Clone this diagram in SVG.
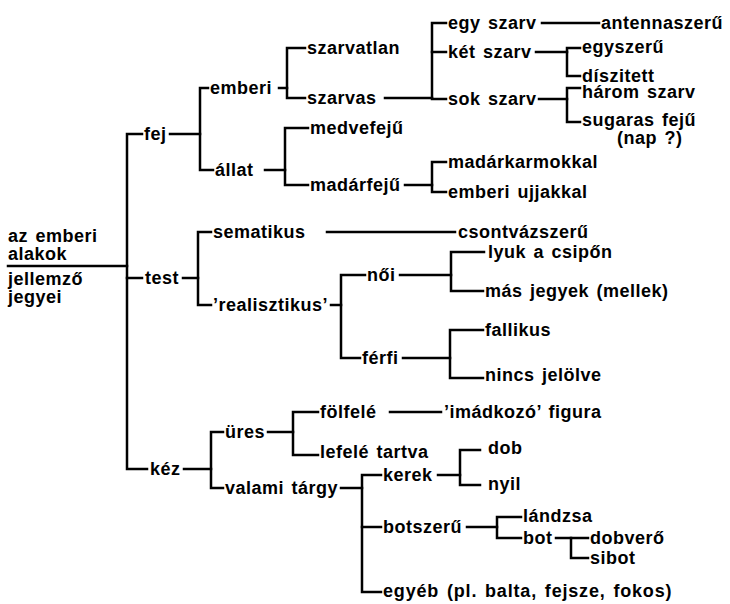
<svg xmlns="http://www.w3.org/2000/svg" width="730" height="604" viewBox="0 0 730 604">
<style>
text{font-family:"Liberation Sans",Arial,sans-serif;font-size:18px;font-weight:bold;fill:#000;letter-spacing:0.5px;word-spacing:2px}
.c line,.c polyline{stroke:#000;stroke-width:2.5;fill:none;stroke-linecap:square}
</style>
<rect width="730" height="604" fill="#fff"/>
<g class="c" id="connectors">
<line x1="8" y1="266" x2="127" y2="266"/>
<polyline points="142,134 127,134 127,469 147,469"/>
<line x1="127" y1="278" x2="142" y2="278"/>
<line x1="170" y1="134" x2="200" y2="134"/>
<polyline points="208,88 200,88 200,170 213,170"/>
<line x1="279" y1="88" x2="287" y2="88"/>
<polyline points="305,48 287,48 287,98 305,98"/>
<line x1="385" y1="98" x2="432" y2="98"/>
<polyline points="446,23 432,23 432,99 446,99"/>
<line x1="432" y1="52" x2="446" y2="52"/>
<line x1="542" y1="23" x2="599" y2="23"/>
<line x1="536" y1="52" x2="567" y2="52"/>
<polyline points="580,48 567,48 567,76 580,76"/>
<line x1="539" y1="99" x2="567" y2="99"/>
<polyline points="580,88 567,88 567,122 580,122"/>
<line x1="265" y1="170" x2="285" y2="170"/>
<polyline points="308,128 285,128 285,185 308,185"/>
<line x1="405" y1="185" x2="432" y2="185"/>
<polyline points="446,162 432,162 432,192 446,192"/>
<line x1="183" y1="278" x2="198" y2="278"/>
<polyline points="211,232 198,232 198,305 211,305"/>
<line x1="327" y1="232" x2="455" y2="232"/>
<line x1="331" y1="305" x2="341" y2="305"/>
<polyline points="365,275 341,275 341,358 360,358"/>
<line x1="400" y1="275" x2="451" y2="275"/>
<polyline points="484,252 451,252 451,291 483,291"/>
<line x1="403" y1="358" x2="450" y2="358"/>
<polyline points="483,330 450,330 450,378 483,378"/>
<line x1="184" y1="469" x2="211" y2="469"/>
<polyline points="223,432 211,432 211,488 223,488"/>
<line x1="268" y1="432" x2="293" y2="432"/>
<polyline points="318,412 293,412 293,455 318,455"/>
<line x1="390" y1="412" x2="441" y2="412"/>
<line x1="341" y1="488" x2="362" y2="488"/>
<polyline points="381,475 362,475 362,592 381,592"/>
<line x1="362" y1="527" x2="381" y2="527"/>
<line x1="438" y1="475" x2="460" y2="475"/>
<polyline points="480,450 460,450 460,485 480,485"/>
<line x1="467" y1="527" x2="497" y2="527"/>
<polyline points="521,517 497,517 497,538 521,538"/>
<line x1="556" y1="538" x2="571" y2="538"/>
<polyline points="588,538 571,538 571,558 588,558"/>
</g>
<g id="root">
<text x="8" y="242">az emberi</text>
<text x="8" y="260">alakok</text>
<text x="8" y="285">jellemző</text>
<text x="8" y="303">jegyei</text>
</g>
<g id="fej"><text x="144" y="140">fej</text></g>
<g id="emberi"><text x="210" y="94">emberi</text></g>
<g id="szarvatlan"><text x="307" y="54">szarvatlan</text></g>
<g id="szarvas"><text x="307" y="104">szarvas</text></g>
<g id="egy-szarv"><text x="448" y="29">egy szarv</text></g>
<g id="antennaszeru"><text x="601" y="29">antennaszerű</text></g>
<g id="ket-szarv"><text x="448" y="58">két szarv</text></g>
<g id="egyszeru"><text x="582" y="53">egyszerű</text></g>
<g id="diszitett"><text x="582" y="82">díszitett</text></g>
<g id="sok-szarv"><text x="448" y="105">sok szarv</text></g>
<g id="harom-szarv"><text x="582" y="98">három szarv</text></g>
<g id="sugaras-feju"><text x="582" y="126">sugaras fejű</text><text x="617" y="144">(nap ?)</text></g>
<g id="allat"><text x="215" y="176">állat</text></g>
<g id="medvefeju"><text x="310" y="134">medvefejű</text></g>
<g id="madarfeju"><text x="310" y="191">madárfejű</text></g>
<g id="madarkarmokkal"><text x="448" y="168">madárkarmokkal</text></g>
<g id="emberi-ujjakkal"><text x="448" y="198">emberi ujjakkal</text></g>
<g id="test"><text x="145" y="284">test</text></g>
<g id="sematikus"><text x="213" y="238">sematikus</text></g>
<g id="csontvazszeru"><text x="458" y="238">csontvázszerű</text></g>
<g id="realisztikus"><text x="213" y="311">’realisztikus’</text></g>
<g id="noi"><text x="367" y="281">női</text></g>
<g id="lyuk"><text x="488" y="258">lyuk a csipőn</text></g>
<g id="mas-jegyek"><text x="485" y="297">más jegyek (mellek)</text></g>
<g id="ferfi"><text x="362" y="364">férfi</text></g>
<g id="fallikus"><text x="485" y="336">fallikus</text></g>
<g id="nincs-jelolve"><text x="485" y="381">nincs jelölve</text></g>
<g id="kez"><text x="150" y="475">kéz</text></g>
<g id="ures"><text x="225" y="438">üres</text></g>
<g id="folfele"><text x="320" y="418">fölfelé</text></g>
<g id="imadkozo"><text x="444" y="418">’imádkozó’ figura</text></g>
<g id="lefele-tartva"><text x="320" y="458">lefelé tartva</text></g>
<g id="valami-targy"><text x="225" y="494">valami tárgy</text></g>
<g id="kerek"><text x="383" y="481">kerek</text></g>
<g id="dob"><text x="488" y="454">dob</text></g>
<g id="nyil"><text x="488" y="490">nyil</text></g>
<g id="botszeru"><text x="383" y="533">botszerű</text></g>
<g id="landzsa"><text x="523" y="522">lándzsa</text></g>
<g id="bot"><text x="523" y="544">bot</text></g>
<g id="dobvero"><text x="590" y="544">dobverő</text></g>
<g id="sibot"><text x="590" y="564">sibot</text></g>
<g id="egyeb"><text x="383" y="597" textLength="289">egyéb (pl. balta, fejsze, fokos)</text></g>
</svg>
